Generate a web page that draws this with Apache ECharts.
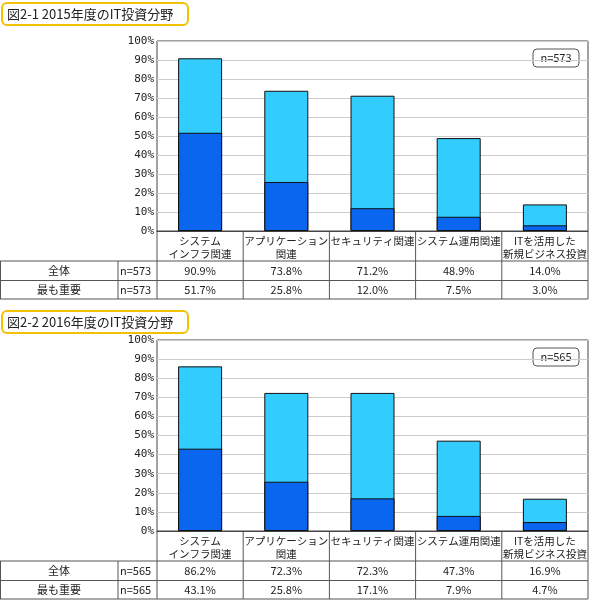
<!DOCTYPE html>
<html><head><meta charset="utf-8">
<script src="https://cdn.jsdelivr.net/npm/echarts@6/dist/echarts.min.js"></script>
<style>html,body{margin:0;padding:0;background:#fff}#c{width:590px;height:609px}</style>
</head><body><div id="c"></div>
<script>
const categories = ['システム\nインフラ関連','アプリケーション\n関連','セキュリティ関連','システム運用関連','ITを活用した\n新規ビジネス投資'];
const titles = ['図2-1 2015年度のIT投資分野','図2-2 2016年度のIT投資分野'];
const nValues = [573, 565];
const total2015 = [90.9, 73.8, 71.2, 48.9, 14.0];
const top2015 = [51.7, 25.8, 12.0, 7.5, 3.0];
const total2016 = [86.2, 72.3, 72.3, 47.3, 16.9];
const top2016 = [43.1, 25.8, 17.1, 7.9, 4.7];
const rowLabels = ['全体','最も重要'];
const yTicks = [0,10,20,30,40,50,60,70,80,90,100];

const FONT = '"Noto Sans CJK JP", sans-serif';
const chart = echarts.init(document.getElementById('c'));
const L = 157, R = 588, CW = (R - L) / 5;
const panels = [
  {top: 41, h: 190, title: 3, total: total2015, imp: top2015, n: nValues[0]},
  {top: 340, h: 191, title: 311, total: total2016, imp: top2016, n: nValues[1]}
];
const grids = [], xAxes = [], yAxes = [], series = [], graphic = [];
const line = (x1,y1,x2,y2) => ({type:'line', shape:{x1,y1,x2,y2}, style:{stroke:'#555', lineWidth:1}, silent:true});
const txt = (x,y,t,align) => ({type:'text', x, y, style:{text:t, font:'11px ' + FONT, fill:'#222', align:align||'center', verticalAlign:'middle'}, silent:true});
panels.forEach((p, i) => {
  grids.push({left: L, width: R - L, top: p.top, height: p.h, show: true, borderColor: '#444', borderWidth: 1});
  xAxes.push({type:'category', gridIndex:i, data:categories, axisTick:{show:false}, axisLine:{lineStyle:{color:'#444'}},
    axisLabel:{fontSize:10.5, fontFamily:FONT, color:'#222', lineHeight:13, margin:4, interval:0}});
  yAxes.push({type:'value', gridIndex:i, min:0, max:100, interval:10, axisLine:{show:false}, axisTick:{show:false},
    splitLine:{lineStyle:{color:'#ccc'}},
    axisLabel:{formatter: v => yTicks.includes(v) ? v + '%' : '', fontSize:11, fontFamily:'DejaVu Sans Mono, monospace', color:'#222', margin:3}});
  series.push({type:'bar', xAxisIndex:i, yAxisIndex:i, data:p.total, barWidth:44, barGap:'-100%',
    itemStyle:{color:'#33CCFF', borderColor:'#111', borderWidth:1}, silent:true});
  series.push({type:'bar', xAxisIndex:i, yAxisIndex:i, data:p.imp, barWidth:44, barGap:'-100%',
    itemStyle:{color:'#0A66EE', borderColor:'#111', borderWidth:1}, silent:true});
  // title box
  graphic.push({type:'rect', shape:{x:2, y:p.title, width:186, height:22, r:5}, style:{fill:'#fff', stroke:'#F2C200', lineWidth:2}});
  graphic.push({type:'text', x:7, y:p.title+11, style:{text:titles[i], font:'13px ' + FONT, fill:'#222', verticalAlign:'middle'}});
  // n box
  graphic.push({type:'rect', shape:{x:533, y:p.top+8, width:46, height:18, r:4}, style:{fill:'#fff', stroke:'#555', lineWidth:1}});
  graphic.push(txt(556, p.top+17, 'n=' + p.n));
  // table
  const yb = p.top + p.h, y1 = yb + 30, y2 = y1 + 19.5, y3 = y2 + 18.5;
  for (let k = 0; k <= 5; k++) graphic.push(line(L + CW*k, yb, L + CW*k, y3));
  graphic.push(line(0, y1, R, y1), line(0, y2, R, y2), line(0, y3, R, y3));
  graphic.push(line(0.5, y1, 0.5, y3), line(118, y1, 118, y3));
  [p.total, p.imp].forEach((arr, r) => {
    const yc = r === 0 ? (y1 + y2)/2 : (y2 + y3)/2;
    graphic.push(txt(59, yc, rowLabels[r]));
    graphic.push(txt(120, yc, 'n=' + p.n, 'left'));
    arr.forEach((v, k) => graphic.push(txt(L + CW*(k + 0.5), yc, v.toFixed(1) + '%')));
  });
});
chart.setOption({animation:false, grid:grids, xAxis:xAxes, yAxis:yAxes, series, graphic});
</script></body></html>
